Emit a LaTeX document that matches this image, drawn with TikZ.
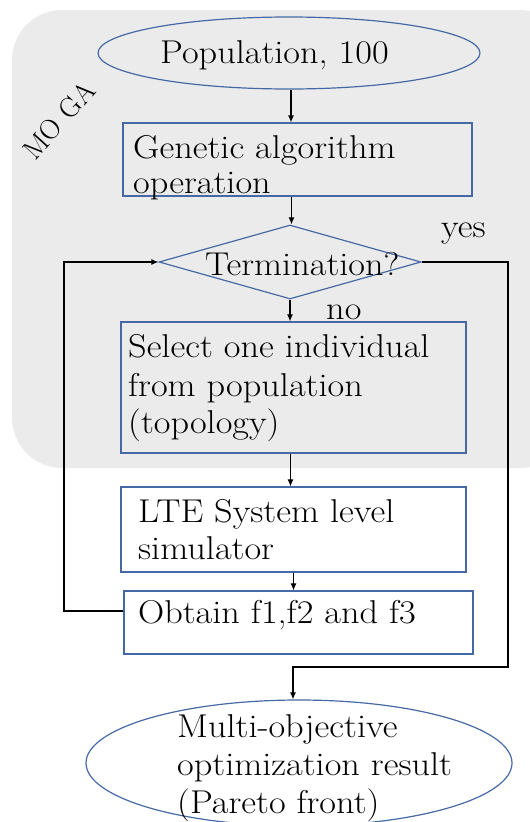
\documentclass[tikz,border=0pt]{standalone}
\usetikzlibrary{shapes.geometric,arrows.meta}
\definecolor{bggray}{RGB}{235,235,235}
\definecolor{boxblue}{RGB}{70,105,165}
\newcommand{\widetxt}[1]{\scalebox{1.1}[1]{#1}}
\begin{document}
\begin{tikzpicture}[x=1pt,y=-1pt,
  bx/.style={draw=boxblue,line width=1.2pt,inner sep=0pt},
  txt/.style={inner sep=0pt,anchor=base west,font=\fontsize{33}{38}\selectfont},
  conn/.style={draw=black,line width=1.1pt},
  arr/.style={conn,-{Latex[length=7pt,width=6pt]}}]
\useasboundingbox (0,0) rectangle (530,822);
\begin{scope}
\clip (0,0) rectangle (530,822);
\fill[bggray,rounded corners=50pt] (12,10) rectangle (570,468);
\end{scope}
% shapes
\node[bx,ellipse,minimum width=382pt,minimum height=72pt] (e1) at (289,53) {};
\node[bx,rectangle,minimum width=349pt,minimum height=73pt] (r1) at (297.5,159.5) {};
\node[bx,diamond,minimum width=262pt,minimum height=74pt] (d) at (290,262) {};
\node[bx,rectangle,minimum width=345pt,minimum height=131pt] (r2) at (293.5,387.5) {};
\node[bx,rectangle,minimum width=345pt,minimum height=85pt] (r3) at (293.5,529.5) {};
\node[bx,rectangle,minimum width=349pt,minimum height=63pt] (r4) at (298.5,622.5) {};
\node[bx,ellipse,minimum width=426pt,minimum height=126pt] (e2) at (299,763) {};
% texts
\node[txt] (t1) at (160,63) {\widetxt{Population, 100}};
\node[txt] (t2a) at (133,158) {\widetxt{Genetic algorithm}};
\node[txt] (t2b) at (133,193) {\widetxt{operation}};
\node[txt] (t3) at (205,275) {\widetxt{Termination?}};
\node[txt] (tyes) at (441,237) {\widetxt{yes}};
\node[txt] (tno) at (326,319) {\widetxt{no}};
\node[txt] (t4a) at (128,357) {\widetxt{Select one individual}};
\node[txt] (t4b) at (128,396) {\widetxt{from population}};
\node[txt] (t4c) at (128,433) {\widetxt{(topology)}};
\node[txt] (t5a) at (138,522) {\widetxt{LTE System level}};
\node[txt] (t5b) at (138,559) {\widetxt{simulator}};
\node[txt] (t6) at (138,623) {\widetxt{Obtain f1,f2 and f3}};
\node[txt] (t7a) at (177,737) {\widetxt{Multi-objective}};
\node[txt] (t7b) at (177,775) {\widetxt{optimization result}};
\node[txt] (t7c) at (177,813) {\widetxt{(Pareto front)}};
\node[inner sep=0pt,rotate=48,font=\fontsize{28}{32}\selectfont] (moga) at (59,120) {MO\,\,GA};
% connectors
\coordinate (rc) at (508,667);
\coordinate (lc) at (64,611);
\draw[arr] ([xshift=2pt]e1.south) -- ([xshift=2pt]e1.south |- r1.north);
\draw[arr] ([xshift=-6pt]r1.south) -- ([xshift=-6pt]r1.south |- d.north);
\draw[arr] (d.south) -- (d.south |- r2.north);
\draw[arr] ([xshift=-3pt]r2.south) -- ([xshift=-3pt]r2.south |- r3.north);
\draw[arr] (r3.south) -- (r3.south |- r4.north);
\draw[arr] (d.east) -| (rc) -| ([xshift=-6pt]e2.north);
\draw[arr] (r4.west |- lc) -- (lc) |- (d.west);
\end{tikzpicture}
\end{document}
